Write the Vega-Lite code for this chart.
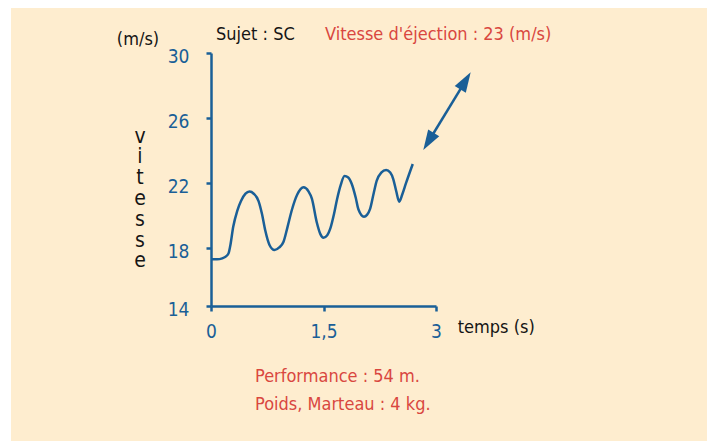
{
  "$schema": "https://vega.github.io/schema/vega-lite/v6.json",
  "width": 225,
  "height": 253,
  "autosize": {"type": "none"},
  "padding": {"left": 211, "top": 53, "right": 278, "bottom": 135},
  "background": "#feedcf",
  "config": {
    "view": {"stroke": null},
    "font": "'DejaVu Sans Condensed', 'Liberation Sans Narrow', sans-serif",
    "axis": {
      "grid": false,
      "domainColor": "#1a5f97",
      "tickColor": "#1a5f97",
      "labelColor": "#1a5f97",
      "domainWidth": 2.5,
      "tickWidth": 2.5,
      "tickSize": 5,
      "labelFont": "'DejaVu Sans Condensed', 'Liberation Sans Narrow', sans-serif",
      "labelFontSize": 19
    }
  },
  "datasets": {
    "curve": [
      {"t": 0, "v": 17.32}, {"t": 0.08, "v": 17.32}, {"t": 0.15, "v": 17.38}, {"t": 0.2, "v": 17.5},
      {"t": 0.235, "v": 17.7}, {"t": 0.255, "v": 18.1}, {"t": 0.297, "v": 19.33}, {"t": 0.35, "v": 20.3},
      {"t": 0.4, "v": 20.9}, {"t": 0.46, "v": 21.35}, {"t": 0.514, "v": 21.48}, {"t": 0.57, "v": 21.35},
      {"t": 0.634, "v": 20.9}, {"t": 0.68, "v": 20.1}, {"t": 0.723, "v": 19.1}, {"t": 0.78, "v": 18.2},
      {"t": 0.847, "v": 17.89}, {"t": 0.91, "v": 18.05}, {"t": 0.967, "v": 18.4}, {"t": 1.02, "v": 19.3},
      {"t": 1.078, "v": 20.35}, {"t": 1.15, "v": 21.3}, {"t": 1.233, "v": 21.75}, {"t": 1.3, "v": 21.5},
      {"t": 1.345, "v": 21.05}, {"t": 1.41, "v": 19.6}, {"t": 1.46, "v": 18.85}, {"t": 1.5, "v": 18.65},
      {"t": 1.55, "v": 18.8}, {"t": 1.59, "v": 19.2}, {"t": 1.64, "v": 20.1}, {"t": 1.68, "v": 21.0},
      {"t": 1.73, "v": 21.9}, {"t": 1.78, "v": 22.44}, {"t": 1.83, "v": 22.35}, {"t": 1.877, "v": 21.95},
      {"t": 1.93, "v": 21.1}, {"t": 1.965, "v": 20.4}, {"t": 2.04, "v": 19.94}, {"t": 2.08, "v": 20.05},
      {"t": 2.12, "v": 20.4}, {"t": 2.17, "v": 21.4}, {"t": 2.21, "v": 22.15}, {"t": 2.27, "v": 22.65},
      {"t": 2.335, "v": 22.81}, {"t": 2.39, "v": 22.65}, {"t": 2.43, "v": 22.25}, {"t": 2.47, "v": 21.5},
      {"t": 2.51, "v": 20.86}, {"t": 2.55, "v": 21.3}, {"t": 2.6, "v": 22.0}, {"t": 2.69, "v": 23.18}
    ],
    "margins": [
      {"t1": -3.2, "t2": -2.667, "v1": 34, "v2": 3},
      {"t1": -3.2, "t2": 7.2, "v1": 34, "v2": 32.77},
      {"t1": 6.613, "t2": 7.2, "v1": 34, "v2": 3}
    ],
    "shaft": [{"t1": 2.9, "v1": 24.56, "t2": 3.393, "v2": 28.29}],
    "heads": [
      {"t": 3.393, "v": 28.29, "end": "haut"},
      {"t": 2.9, "v": 24.56, "end": "bas"}
    ],
    "notes": [
      {"t": -0.973, "v": 30.8, "label": "(m/s)", "kind": "noir", "align": "center"},
      {"t": 0.067, "v": 31.1, "label": "Sujet : SC", "kind": "noir", "align": "left"},
      {"t": 1.52, "v": 31.1, "label": "Vitesse d'éjection : 23 (m/s)", "kind": "rouge", "align": "left"},
      {"t": 3.29, "v": 13.1, "label": "temps (s)", "kind": "noir", "align": "left"},
      {"t": 0.587, "v": 10.09, "label": "Performance : 54 m.", "kind": "rouge", "align": "left"},
      {"t": 0.587, "v": 8.37, "label": "Poids, Marteau : 4 kg.", "kind": "rouge", "align": "left"}
    ],
    "vertical": [{"t": -0.947, "v": 24.86, "label": "v\ni\nt\ne\ns\ns\ne"}]
  },
  "layer": [
    {
      "data": {"name": "curve"},
      "mark": {"type": "line", "interpolate": "monotone", "color": "#1a5f97", "strokeWidth": 2.5},
      "encoding": {
        "x": {"field": "t", "type": "quantitative", "scale": {"domain": [0, 3], "nice": false, "zero": false},
          "axis": {"title": null, "values": [0, 1.5, 3], "format": "~g", "labelExpr": "replace(datum.label, '.', ',')", "labelPadding": 11, "labelFlush": false}},
        "y": {"field": "v", "type": "quantitative", "scale": {"domain": [14.45, 30], "nice": false, "zero": false},
          "axis": {"title": null, "values": [14.45, 18, 22, 26, 30], "labelExpr": "datum.value < 15 ? '14' : datum.label", "labelPadding": 17, "labelOffset": 3}}
      }
    },
    {
      "data": {"name": "margins"},
      "mark": {"type": "rect", "color": "#ffffff", "clip": false},
      "encoding": {
        "x": {"field": "t1", "type": "quantitative"},
        "x2": {"field": "t2"},
        "y": {"field": "v1", "type": "quantitative"},
        "y2": {"field": "v2"}
      }
    },
    {
      "data": {"name": "shaft"},
      "mark": {"type": "rule", "color": "#1a5f97", "strokeWidth": 2.5, "clip": false},
      "encoding": {
        "x": {"field": "t1", "type": "quantitative"},
        "x2": {"field": "t2"},
        "y": {"field": "v1", "type": "quantitative"},
        "y2": {"field": "v2"}
      }
    },
    {
      "data": {"name": "heads"},
      "transform": [{"filter": "datum.end === 'haut'"}],
      "mark": {"type": "point", "shape": "M0,-1L0.65,1L-0.65,1Z", "filled": true, "color": "#1a5f97", "opacity": 1, "size": 400, "angle": 31.4, "clip": false},
      "encoding": {
        "x": {"field": "t", "type": "quantitative"},
        "y": {"field": "v", "type": "quantitative"}
      }
    },
    {
      "data": {"name": "heads"},
      "transform": [{"filter": "datum.end === 'bas'"}],
      "mark": {"type": "point", "shape": "M0,-1L0.65,1L-0.65,1Z", "filled": true, "color": "#1a5f97", "opacity": 1, "size": 400, "angle": 211.4, "clip": false},
      "encoding": {
        "x": {"field": "t", "type": "quantitative"},
        "y": {"field": "v", "type": "quantitative"}
      }
    },
    {
      "data": {"name": "notes"},
      "transform": [{"filter": "datum.kind === 'noir' && datum.align === 'center'"}],
      "mark": {"type": "text", "align": "center", "baseline": "middle", "fontSize": 18, "color": "#151515", "clip": false},
      "encoding": {
        "x": {"field": "t", "type": "quantitative"},
        "y": {"field": "v", "type": "quantitative"},
        "text": {"field": "label"}
      }
    },
    {
      "data": {"name": "notes"},
      "transform": [{"filter": "datum.kind === 'noir' && datum.align === 'left'"}],
      "mark": {"type": "text", "align": "left", "baseline": "middle", "fontSize": 18, "color": "#151515", "clip": false},
      "encoding": {
        "x": {"field": "t", "type": "quantitative"},
        "y": {"field": "v", "type": "quantitative"},
        "text": {"field": "label"}
      }
    },
    {
      "data": {"name": "notes"},
      "transform": [{"filter": "datum.kind === 'rouge'"}],
      "mark": {"type": "text", "align": "left", "baseline": "middle", "fontSize": 18, "color": "#d9473f", "clip": false},
      "encoding": {
        "x": {"field": "t", "type": "quantitative"},
        "y": {"field": "v", "type": "quantitative"},
        "text": {"field": "label"}
      }
    },
    {
      "data": {"name": "vertical"},
      "mark": {"type": "text", "align": "center", "baseline": "middle", "fontSize": 21, "lineBreak": "\n", "lineHeight": 20.8, "color": "#151515", "clip": false},
      "encoding": {
        "x": {"field": "t", "type": "quantitative"},
        "y": {"field": "v", "type": "quantitative"},
        "text": {"field": "label"}
      }
    }
  ]
}
